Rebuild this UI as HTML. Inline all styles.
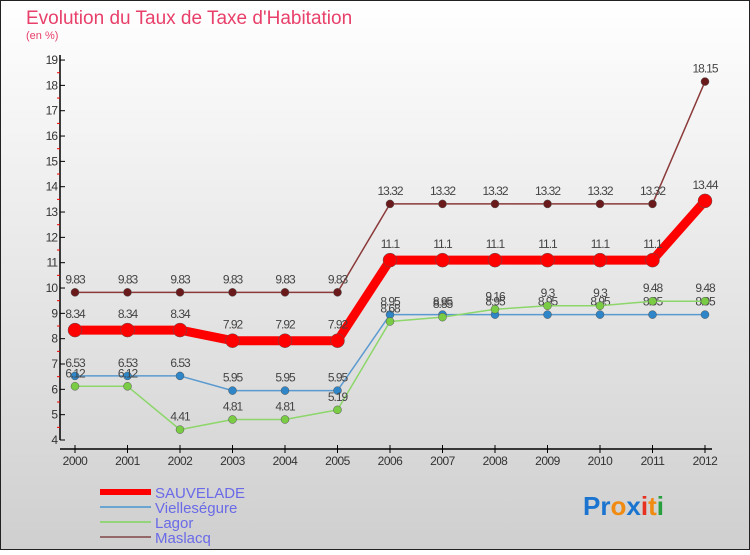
<!DOCTYPE html>
<html><head><meta charset="utf-8"><style>
html,body{margin:0;padding:0}
body{width:750px;height:550px;overflow:hidden;font-family:"Liberation Sans",sans-serif}
svg text{font-family:"Liberation Sans",sans-serif}
</style></head><body>
<svg id="chart" width="750" height="550" xmlns="http://www.w3.org/2000/svg">
<defs><linearGradient id="bg" x1="0" y1="0" x2="0" y2="1"><stop offset="0" stop-color="#ffffff"/><stop offset="1" stop-color="#cfcfcf"/></linearGradient></defs>
<rect x="0.5" y="0.5" width="749" height="549" fill="url(#bg)" stroke="#222"/>
<text x="26" y="24" font-size="19" fill="#e8406a">Evolution du Taux de Taxe d'Habitation</text>
<text x="26" y="39" font-size="11" fill="#e8406a">(en %)</text>
<g id="axes"></g>
<g id="series"></g>
<g>
<line x1="100" y1="492" x2="151" y2="492" stroke="#f00" stroke-width="6"/>
<text x="155" y="498" font-size="15" fill="#6a6ae8">SAUVELADE</text>
<line x1="100" y1="507" x2="151" y2="507" stroke="#6aa4d0" stroke-width="2"/>
<text x="155" y="513" font-size="15" fill="#6a6ae8">Vielleségure</text>
<line x1="100" y1="522" x2="151" y2="522" stroke="#94d47a" stroke-width="2"/>
<text x="155" y="528" font-size="15" fill="#6a6ae8">Lagor</text>
<line x1="100" y1="537" x2="151" y2="537" stroke="#946868" stroke-width="2"/>
<text x="155" y="543" font-size="15" fill="#6a6ae8">Maslacq</text>
</g>
<g font-size="26" font-weight="bold">
<text x="583" y="515"><tspan fill="#1a74d0">Pr</tspan><tspan fill="#f08a10">o</tspan><tspan fill="#1a74d0">x</tspan><tspan fill="#e83020">i</tspan><tspan fill="#f08a10">t</tspan><tspan fill="#28a040">i</tspan></text>
</g>
</svg>
<script>
const years=[2000,2001,2002,2003,2004,2005,2006,2007,2008,2009,2010,2011,2012];
const yTicks=[4,5,6,7,8,9,10,11,12,13,14,15,16,17,18,19];
const sauvelade=[8.34,8.34,8.34,7.92,7.92,7.92,11.1,11.1,11.1,11.1,11.1,11.1,13.44];
const vielleségure=[6.53,6.53,6.53,5.95,5.95,5.95,8.95,8.95,8.95,8.95,8.95,8.95,8.95];
const lagor=[6.12,6.12,4.41,4.81,4.81,5.19,8.68,8.85,9.16,9.3,9.3,9.48,9.48];
const maslacq=[9.83,9.83,9.83,9.83,9.83,9.83,13.32,13.32,13.32,13.32,13.32,13.32,18.15];
const NS="http://www.w3.org/2000/svg";
const xs=i=>75+i*52.5;
const ys=v=>440-(v-4)*25.33;
function mk(tag,attrs,parent){const e=document.createElementNS(NS,tag);for(const k in attrs)e.setAttribute(k,attrs[k]);parent.appendChild(e);return e;}
const ax=document.getElementById('axes');
let yl=mk('line',{x1:60,y1:55,x2:60,y2:440,stroke:'#000','stroke-width':1.5},ax);


let xl=mk('line',{x1:60,y1:449,x2:712,y2:449,stroke:'#000','stroke-width':1.5},ax);


yTicks.forEach((t,i)=>{
  const y=ys(t);
  mk('line',{x1:60,y1:y,x2:65,y2:y,stroke:'#000'},ax);
  if(i<yTicks.length-1)mk('line',{x1:57,y1:y-12.66,x2:60,y2:y-12.66,stroke:'#e00'},ax);
  const tx=mk('text',{x:57,y:y+4,'font-size':12,fill:'#333','text-anchor':'end','letter-spacing':'-1'},ax);
  tx.textContent=t;
  
  
});
years.forEach((yr,i)=>{
  const x=xs(i);
  mk('line',{x1:x,y1:445,x2:x,y2:453,stroke:'#000'},ax);
  const tx=mk('text',{x:x,y:465,'font-size':12,fill:'#333','text-anchor':'middle','letter-spacing':'-0.5'},ax);
  tx.textContent=yr;
  
  
});
const sg=document.getElementById('series');
function draw(name,vals,color,w,r,dot){
  const g=mk('g',{},sg);
  
  
  mk('polyline',{points:vals.map((v,i)=>xs(i)+','+ys(v)).join(' '),fill:'none',stroke:color,'stroke-width':w,'stroke-linejoin':'round'},g);
  vals.forEach((v,i)=>{
    const c=mk('circle',{cx:xs(i),cy:ys(v),r:r,fill:dot,stroke:'#555','stroke-width':0.5},g);
    
    
    const t=mk('text',{x:xs(i),y:ys(v)-r-5,'font-size':12,fill:'#444','text-anchor':'middle','letter-spacing':'-1'},g);
    t.textContent=v;
    
    
  });
}
draw('maslacq',maslacq,'#8b3a3a',1.5,4,'#6a1a1a');
draw('vielleségure',vielleségure,'#5a9ad0',1.5,4,'#2e86c8');
draw('lagor',lagor,'#8cd66a',1.5,4,'#7acc44');
draw('sauvelade',sauvelade,'#f00',9,7,'#f00');
</script>
</body></html>
